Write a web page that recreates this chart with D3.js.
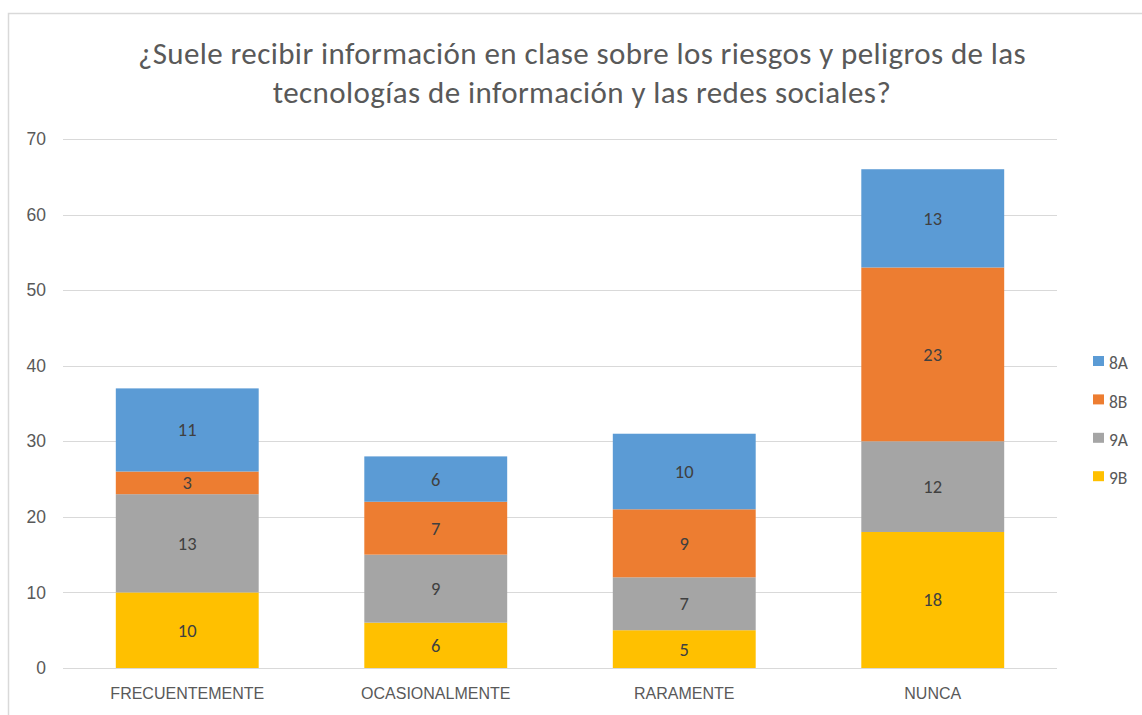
<!DOCTYPE html>
<html><head><meta charset="utf-8">
<script src="https://cdn.jsdelivr.net/npm/d3@7"></script>
<style>
body{margin:0;background:#fff;}
svg{display:block;font-family:Carlito,Calibri,Lato,"Open Sans",sans-serif;}
</style></head><body>
<svg id="c" width="1142" height="715"></svg>
<script>
const categories = ["FRECUENTEMENTE","OCASIONALMENTE","RARAMENTE","NUNCA"];
const seriesNames = ["9B","9A","8B","8A"];
const s9B = [10,6,5,18];
const s9A = [13,9,7,12];
const s8B = [3,7,9,23];
const s8A = [11,6,10,13];
const yTicks = [0,10,20,30,40,50,60,70];
const legendOrder = ["8A","8B","9A","9B"];
const colors = {"8A":"#5B9BD5","8B":"#ED7D31","9A":"#A5A5A5","9B":"#FFC000"};
const titleLines = ["¿Suele recibir información en clase sobre los riesgos y peligros de las","tecnologías de información y las redes sociales?"];

const svg = d3.select("#c");
svg.append("rect").attr("x",8.5).attr("y",13.5).attr("width",1200).attr("height",800)
  .attr("fill","#fff").attr("stroke","#d9d9d9").attr("stroke-width",1.5);

const pL=63, pR=1057, pT=139, pB=668;
const x = d3.scaleBand().domain(categories).range([pL,pR]).paddingInner(0.425).paddingOuter(0.2125);
const y = d3.scaleLinear().domain([0,70]).range([pB,pT]);

svg.append("g").selectAll("line").data(yTicks).join("line")
  .attr("x1",pL).attr("x2",pR).attr("y1",d=>Math.round(y(d))+0.5).attr("y2",d=>Math.round(y(d))+0.5)
  .attr("stroke","#d9d9d9").attr("stroke-width",1);

const yAxis = svg.append("g").attr("transform",`translate(${pL},0)`)
  .call(d3.axisLeft(y).tickValues(yTicks).tickSize(0).tickPadding(17));
yAxis.select(".domain").remove();
yAxis.selectAll("text").attr("fill","#595959").attr("font-size",17.5).attr("font-family",null);

const table = categories.map((c,i)=>({cat:c,"9B":s9B[i],"9A":s9A[i],"8B":s8B[i],"8A":s8A[i]}));
const stack = d3.stack().keys(seriesNames)(table);

const g = svg.append("g");
stack.forEach(layer=>{
  const key = layer.key;
  g.append("g").selectAll("rect").data(layer).join("rect")
    .attr("x",d=>x(d.data.cat)).attr("width",x.bandwidth())
    .attr("y",d=>y(d[1])).attr("height",d=>y(d[0])-y(d[1]))
    .attr("fill",colors[key]);
  g.append("g").selectAll("text").data(layer).join("text")
    .attr("x",d=>x(d.data.cat)+x.bandwidth()/2)
    .attr("y",d=>(y(d[0])+y(d[1]))/2)
    .attr("dy","0.35em").attr("text-anchor","middle")
    .attr("font-size",18.5).attr("fill","#404040")
    .text(d=>d[1]-d[0]);
});

const xAxis = svg.append("g").attr("transform",`translate(0,${pB})`)
  .call(d3.axisBottom(x).tickSize(0).tickPadding(20));
xAxis.select(".domain").remove();
xAxis.selectAll("text").attr("fill","#595959").attr("font-size",16).attr("font-family",null);

svg.append("text").attr("x",582).attr("y",64).attr("text-anchor","middle")
  .attr("font-size",31).attr("letter-spacing",0.4).attr("fill","#595959")
  .selectAll("tspan").data(titleLines).join("tspan")
  .attr("x",582).attr("dy",(d,i)=>i?39:0).text(d=>d);

const lg = svg.append("g").selectAll("g").data(legendOrder).join("g")
  .attr("transform",(d,i)=>`translate(1093,${361+i*38.4})`);
lg.append("rect").attr("x",0).attr("y",-5).attr("width",11).attr("height",10).attr("fill",d=>colors[d]);
lg.append("text").attr("x",16).attr("y",2).attr("dy","0.35em").attr("font-size",17.5).attr("fill","#595959").text(d=>d);
</script>
</body></html>
